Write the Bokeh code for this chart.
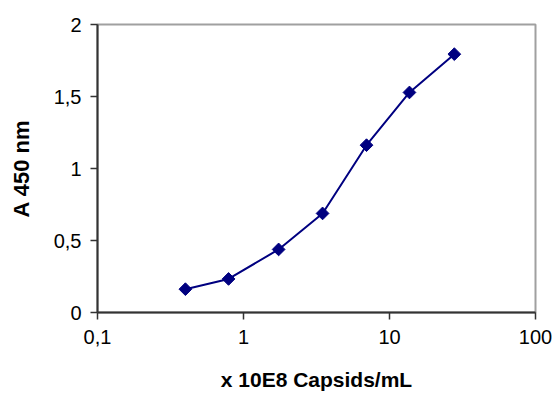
import numpy as np
from bokeh.plotting import figure
from bokeh.models import FixedTicker, ColumnDataSource
from bokeh.embed import file_html
from bokeh.resources import INLINE

# Data
capsids = [0.40, 0.79, 1.74, 3.48, 6.96, 13.7, 27.8]
absorbance = [0.162, 0.233, 0.438, 0.688, 1.162, 1.528, 1.794]
x_ticks = [0.1, 1, 10, 100]
x_tick_labels = ["0,1", "1", "10", "100"]
y_ticks = [0, 0.5, 1, 1.5, 2]
y_tick_labels = ["0", "0,5", "1", "1,5", "2"]
x_title = "x 10E8 Capsids/mL"
y_title = "A 450 nm"

FONT = "Liberation Sans"

p = figure(width=555, height=398, x_axis_type="log",
           x_range=(0.1, 100), y_range=(0, 2),
           output_backend="svg", toolbar_location=None,
           min_border_left=97, min_border_right=20,
           min_border_top=24, min_border_bottom=86)

p.grid.visible = False
p.outline_line_color = "#a0a0a0"
p.outline_line_width = 2

src = ColumnDataSource(dict(x=capsids, y=absorbance))
p.line("x", "y", source=src, line_color="#000080", line_width=2)
p.scatter("x", "y", source=src, marker="square", angle=np.pi / 4, size=9,
          fill_color="#000080", line_color="#000080")

for ax in (p.xaxis[0], p.yaxis[0]):
    ax.axis_line_color = "#333333"
    ax.axis_line_width = 2
    ax.major_tick_line_color = "#333333"
    ax.major_tick_line_width = 1.5
    ax.major_tick_in = 0
    ax.major_tick_out = 7
    ax.minor_tick_line_color = None
    ax.major_label_text_font = FONT
    ax.major_label_text_font_size = "20px"
    ax.major_label_text_color = "black"
    ax.axis_label_text_font = FONT
    ax.axis_label_text_font_style = "bold"
    ax.axis_label_text_color = "black"

p.xaxis.ticker = FixedTicker(ticks=x_ticks, minor_ticks=[])
p.xaxis.major_label_overrides = {t: l for t, l in zip(x_ticks, x_tick_labels)}
p.xaxis.major_label_standoff = 10
p.xaxis.axis_label = x_title
p.xaxis.axis_label_text_font_size = "21px"
p.xaxis.axis_label_standoff = 21

p.yaxis.ticker = FixedTicker(ticks=y_ticks, minor_ticks=[])
p.yaxis.major_label_overrides = {t: l for t, l in zip(y_ticks, y_tick_labels)}
p.yaxis.major_label_standoff = 9
p.yaxis.axis_label = y_title
p.yaxis.axis_label_text_font_size = "22px"
p.yaxis.axis_label_standoff = 17

open("out.html", "w").write(file_html(p, INLINE))
